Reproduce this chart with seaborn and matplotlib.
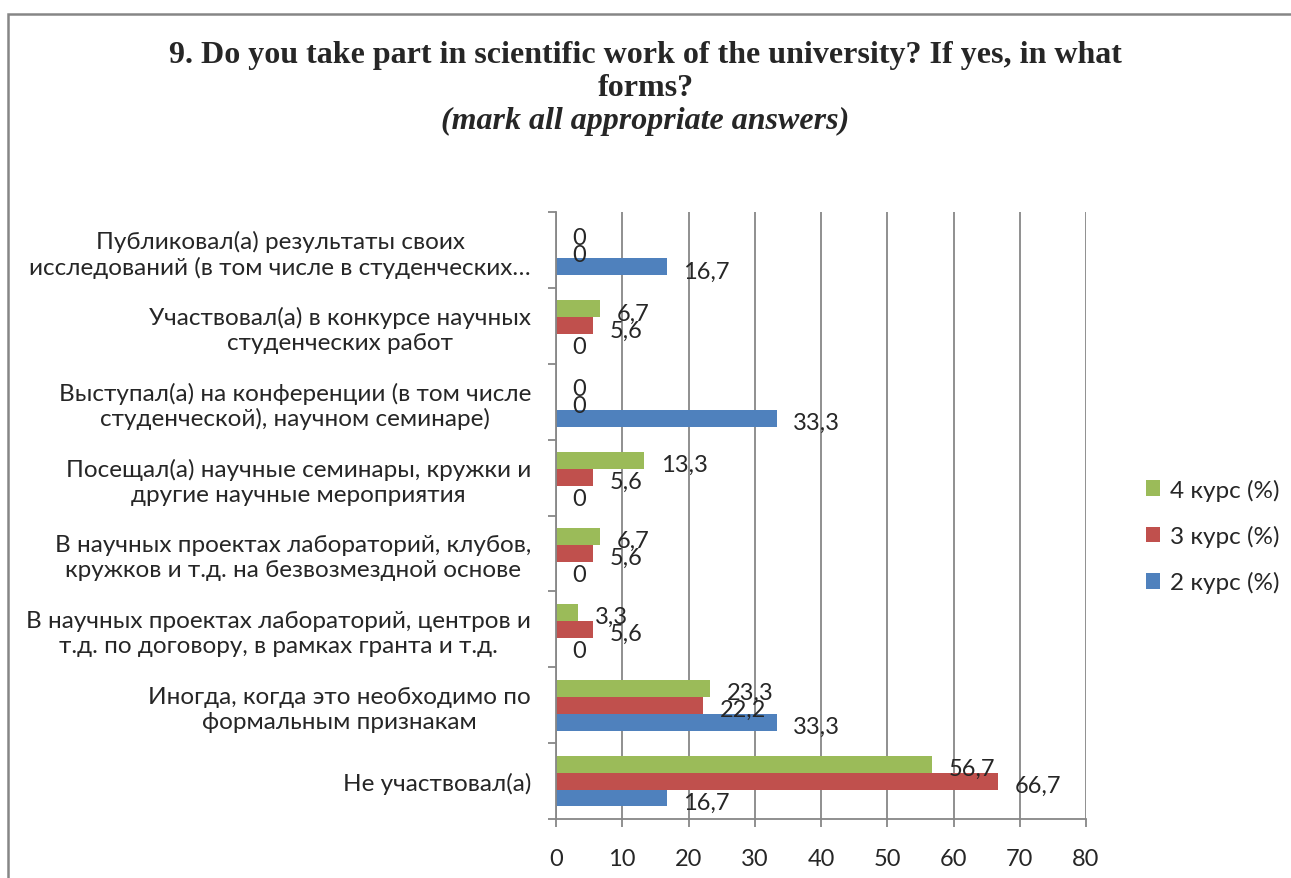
import numpy as np
import pandas as pd
import matplotlib
matplotlib.use("Agg")
import matplotlib.pyplot as plt
import seaborn as sb

categories = [
    "Публиковал(а) результаты своих\nисследований (в том числе в студенческих…",
    "Участвовал(а) в конкурсе научных\nстуденческих работ",
    "Выступал(а) на конференции (в том числе\nстуденческой), научном семинаре)",
    "Посещал(а) научные семинары, кружки и\nдругие научные мероприятия",
    "В научных проектах лабораторий, клубов,\nкружков и т.д. на безвозмездной основе",
    "В научных проектах лабораторий, центров и\nт.д. по договору, в рамках гранта и т.д.",
    "Иногда, когда это необходимо по\nформальным признакам",
    "Не участвовал(а)",
]
kurs4 = [0, 6.7, 0, 13.3, 6.7, 3.3, 23.3, 56.7]
kurs3 = [0, 5.6, 0, 5.6, 5.6, 5.6, 22.2, 66.7]
kurs2 = [16.7, 0, 33.3, 0, 0, 0, 33.3, 16.7]
series = ["4 курс (%)", "3 курс (%)", "2 курс (%)"]
colors = ["#9BBB59", "#C0504D", "#4F81BD"]
xticks = [0, 10, 20, 30, 40, 50, 60, 70, 80]

t = pd.DataFrame({
    "cat": categories * 3,
    "val": kurs4 + kurs3 + kurs2,
    "ser": [series[0]] * 8 + [series[1]] * 8 + [series[2]] * 8,
})

sb.set_style("white")
plt.rcParams["font.family"] = ["Lato", "DejaVu Sans"]

fig = plt.figure(figsize=(12.91, 8.79), dpi=100)
ax = fig.add_axes([556 / 1291, 1 - 820 / 879, 530 / 1291, 607 / 879])

sb.barplot(data=t, y="cat", x="val", hue="ser", hue_order=series,
           palette=colors, orient="h", width=0.67, saturation=1,
           order=categories, ax=ax, edgecolor="none")

ax.set_xlim(0, 80)
ax.set_ylim(len(categories) - 0.5, -0.5)
ax.set_xticks(xticks)
ax.set_xticklabels([str(v) for v in xticks], fontsize=17)
ax.set_xlabel("")
ax.set_ylabel("")
ax.grid(axis="x", color="#878787", linewidth=1.3)
ax.set_axisbelow(True)

for s in ["top", "right"]:
    ax.spines[s].set_visible(False)
for s in ["left", "bottom"]:
    ax.spines[s].set_color("#878787")
    ax.spines[s].set_linewidth(1.3)

ax.tick_params(axis="y", which="major", left=True, length=0, pad=18, labelsize=17.5)
for lbl in ax.get_yticklabels():
    lbl.set_horizontalalignment("right")
    lbl.set_multialignment("center")
ax.set_yticks(np.arange(len(categories) + 1) - 0.5, minor=True)
ax.tick_params(axis="y", which="minor", left=True, length=6, width=1.3, color="#878787")
ax.tick_params(axis="x", bottom=True, length=6, width=1.3, color="#878787", pad=15)

for cont in ax.containers:
    for bar in cont:
        v = bar.get_width()
        txt = "0" if v == 0 else ("%.1f" % v).replace(".", ",")
        ax.annotate(txt, (v, bar.get_y() + bar.get_height() / 2),
                    xytext=(12, -3), textcoords="offset points",
                    ha="left", va="center", fontsize=17)

leg = ax.legend(loc="center left", bbox_to_anchor=(1124 / 1291, 1 - 537 / 879),
                bbox_transform=fig.transFigure, frameon=False, fontsize=17.5,
                handlelength=0.6, handleheight=0.6, labelspacing=1.0,
                handletextpad=0.4)

fig.text(0.5, 1 - 55 / 879, "9. Do you take part in scientific work of the university? If yes, in what",
         ha="center", va="center", fontsize=23, fontweight="bold", family="Liberation Serif")
fig.text(0.5, 1 - 88 / 879, "forms?",
         ha="center", va="center", fontsize=23, fontweight="bold", family="Liberation Serif")
fig.text(0.5, 1 - 121 / 879, "(mark all appropriate answers)",
         ha="center", va="center", fontsize=23, fontweight="bold", style="italic",
         family="Liberation Serif")

border = plt.Rectangle((8 / 1291, -0.05), 1.1, 1 - 15 / 879 + 0.05,
                       transform=fig.transFigure, fill=False,
                       edgecolor="#868686", linewidth=1.8)
fig.patches.append(border)

fig.savefig("out.png", dpi=100)
